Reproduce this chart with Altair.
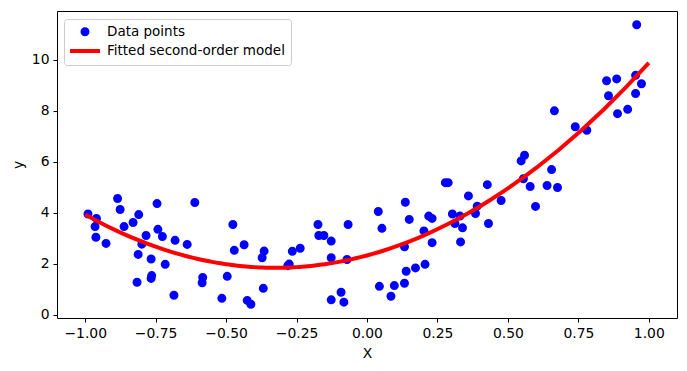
import altair as alt
import pandas as pd

x_vals = [-0.99, -0.96, -0.965, -0.962, -0.926, -0.885, -0.876, -0.862, -0.830, -0.810,
          -0.784, -0.799, -0.812, -0.742, -0.726, -0.745, -0.766, -0.716, -0.816, -0.764,
          -0.766, -0.681, -0.638, -0.611, -0.685, -0.583, -0.585, -0.476, -0.471, -0.436,
          -0.496, -0.515, -0.425, -0.412, -0.368, -0.365, -0.372, -0.265, -0.237, -0.281,
          -0.276, -0.174, -0.171, -0.153, -0.127, -0.127, -0.127, -0.092, -0.082, -0.067,
          -0.071, 0.040, 0.053, 0.044, 0.085, 0.097, 0.133, 0.139, 0.172, 0.206,
          0.136, 0.150, 0.133, 0.202, 0.219, 0.231, 0.231, 0.278, 0.288, 0.303,
          0.312, 0.330, 0.339, 0.332, 0.360, 0.391, 0.385, 0.431, 0.427, 0.476,
          0.547, 0.559, 0.555, 0.579, 0.598, 0.639, 0.655, 0.676, 0.665, 0.739,
          0.780, 0.957, 0.850, 0.886, 0.857, 0.889, 0.925, 0.953, 0.974, 0.953]
y_vals = [3.95, 3.78, 3.46, 3.04, 2.80, 4.56, 4.13, 3.46, 3.62, 3.93,
          3.11, 2.77, 2.37, 3.35, 3.07, 4.36, 2.19, 1.98, 1.28, 1.54,
          1.43, 2.92, 2.76, 4.40, 0.77, 1.47, 1.26, 3.54, 2.53, 2.75,
          1.51, 0.65, 0.57, 0.42, 1.04, 2.50, 2.24, 2.49, 2.61, 1.93,
          1.99, 3.54, 3.11, 3.11, 2.89, 2.24, 0.59, 0.89, 0.50, 3.54,
          2.17, 4.05, 3.39, 1.12, 0.73, 1.15, 1.24, 1.71, 1.84, 1.98,
          4.41, 3.74, 2.67, 3.29, 3.87, 3.78, 2.83, 5.18, 5.18, 3.95,
          3.58, 3.87, 3.41, 2.86, 4.66, 4.26, 3.97, 3.58, 5.10, 4.48,
          6.03, 6.25, 5.33, 5.03, 4.25, 5.07, 5.69, 4.99, 7.99, 7.37,
          7.23, 11.36, 9.17, 9.24, 8.58, 7.88, 8.05, 9.38, 9.05, 8.67]
series_names = ["Data points", "Fitted second-order model"]
series_colors = ["blue", "red"]
x_ticks = [-1.0, -0.75, -0.5, -0.25, 0.0, 0.25, 0.5, 0.75, 1.0]
y_ticks = [0, 2, 4, 6, 8, 10]

df = pd.DataFrame({"x": x_vals, "y": y_vals, "series": series_names[0]})

legend = alt.Legend(
    title=None, orient="none", legendX=7, legendY=8,
    labelFontSize=13.5, labelFont="DejaVu Sans", labelColor="black", labelLimit=400,
    symbolStrokeWidth=4, padding=6, rowPadding=0, symbolOffset=8, labelOffset=15,
    strokeColor="#cccccc", fillColor="white", cornerRadius=3,
)
color_scale = alt.Scale(domain=series_names, range=series_colors)

x_enc = alt.X("x:Q", scale=alt.Scale(domain=[-1.1, 1.1], nice=False, zero=False),
              axis=alt.Axis(values=x_ticks, format=".2f", title="X"))
y_enc = alt.Y("y:Q", scale=alt.Scale(domain=[-0.12, 11.9], nice=False, zero=False),
              axis=alt.Axis(values=y_ticks, title="y"))

points = alt.Chart(df).mark_point(filled=True, opacity=1, strokeWidth=4).encode(
    x=x_enc, y=y_enc,
    color=alt.Color("series:N", scale=color_scale, legend=legend),
    stroke=alt.Stroke("series:N", scale=color_scale, legend=legend),
    shape=alt.Shape("series:N", scale=alt.Scale(domain=series_names, range=["circle", "M-3,0H3"]), legend=legend),
    size=alt.Size("series:N", scale=alt.Scale(domain=series_names, range=[25, 100]), legend=legend),
)

line = alt.Chart(df).transform_regression(
    "x", "y", method="poly", order=2, extent=[-1, 1]
).transform_calculate(series="'Fitted second-order model'").mark_line(strokeWidth=4).encode(
    x=x_enc, y=y_enc,
    color=alt.Color("series:N", scale=color_scale, legend=legend),
)

chart = alt.layer(points, line).properties(
    width=620, height=307,
    autosize=alt.AutoSizeParams(type="none"),
    padding={"left": 49, "top": 3, "right": 2, "bottom": 45},
).configure_view(stroke="black", strokeWidth=1).configure_axis(
    grid=False, domain=False, tickColor="black", tickSize=4, tickWidth=1,
    labelFont="DejaVu Sans", labelFontSize=13.9, labelColor="black", labelPadding=4,
    titleFont="DejaVu Sans", titleFontSize=13.9, titleFontWeight="normal", titleColor="black",
).configure_axisX(titlePadding=7).configure_axisY(titlePadding=6)

chart.save("out.html", embed_options={"renderer": "svg", "actions": False})
